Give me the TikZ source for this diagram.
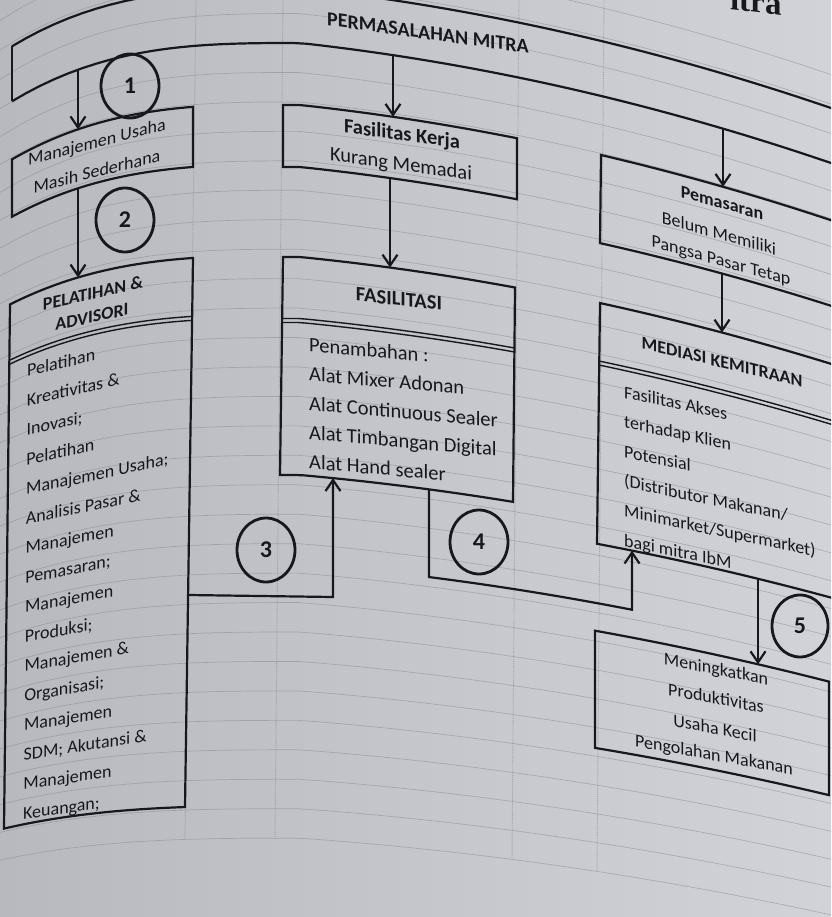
\documentclass[tikz,border=0pt]{standalone}
\usepackage{fontspec}
\setmainfont{Carlito}
\newfontfamily\headserif{Liberation Serif}
\usetikzlibrary{arrows.meta,shapes.geometric}
\definecolor{ink}{RGB}{24,24,28}
\definecolor{paperL}{RGB}{184,185,190}
\definecolor{paperR}{RGB}{210,211,216}
\definecolor{gridc}{RGB}{135,136,142}

% vertical offset of a printed horizontal line (page curvature), x and row value at x=300
\pgfmathdeclarefunction{warp}{2}{%
  \begingroup
  \pgfmathparse{max(0,min(1,(#2-43)/795))}\let\wt\pgfmathresult
  \pgfmathparse{(300-#1)/160}\let\wu\pgfmathresult
  \pgfmathparse{(#1-300)/100}\let\wv\pgfmathresult
  \pgfmathparse{(#1<300)*(10-6.66*\wt)*(\wu)*(\wu)*(\wu)+(#1>300)*((0.1104-0.0397*\wt)*(#1-300)+(2.177-0.787*\wt)*(\wv)*(\wv))}%
  \pgfmathsmuggle\pgfmathresult
  \endgroup}

\newcommand\wbox[6]{%
  \draw[boxline] plot[domain=#1:#2,samples=30] (\x,{#3+warp(\x,#3)})
    -- plot[domain=#5:#4,samples=30] (\x,{#6+warp(\x,#6)}) -- cycle;}
\newcommand\wdiv[3]{%
  \draw[divline] plot[domain=#1:#2,samples=30] (\x,{#3+warp(\x,#3)});
  \draw[divline] plot[domain=#1:#2,samples=30] (\x,{#3+4+warp(\x,#3)});}

\tikzset{
  boxline/.style={draw=ink, line width=2.2pt, line join=miter},
  divline/.style={draw=ink, line width=1.4pt},
  conn/.style={draw=ink, line width=2.2pt, -{Straight Barb[length=11pt,width=15pt]}},
  gridh/.style={draw=gridc, line width=0.7pt, opacity=0.5},
  gridv/.style={draw=gridc, line width=0.9pt, opacity=0.6, densely dotted},
  numc/.style={ellipse, draw=ink, line width=2.8pt, minimum width=58pt, minimum height=64pt, inner sep=0pt, text=ink, font=\fontsize{24}{24}\selectfont\bfseries},
  txt/.style={inner sep=0pt, text=ink},
  fs/.style={font=\fontsize{18}{20}\selectfont},
  fsb/.style={font=\fontsize{18}{20}\selectfont\bfseries},
  fm/.style={font=\fontsize{20.5}{22}\selectfont},
  fmb/.style={font=\fontsize{20.5}{22}\selectfont\bfseries},
}

\begin{document}
\begin{tikzpicture}[x=1pt,y=-1pt]
\shade[left color=paperL,right color=paperR] (0,0) rectangle (831,917);
\useasboundingbox (0,0) rectangle (831,917);
\clip (0,0) rectangle (831,917);

% faint spreadsheet grid
\foreach \k in {-3,...,27}{
  \pgfmathsetmacro\yy{43+29.45*\k}
  \draw[gridh] plot[domain=0:831,samples=40] (\x,{\yy+warp(\x,\yy)});
}
\foreach \xa/\xb in {196/185,283/275,519/512,604/597}{
  \draw[gridv] (\xa,0) -- (\xb,{838+warp(\xb,838)});
}

% page header fragment
\node[txt, anchor=base west, yslant=-0.12, font=\headserif\bfseries\fontsize{33}{33}\selectfont] (hdr) at (730,9) {itra};

% top box
\draw[boxline] plot[domain=12:840,samples=60] (\x,{-12+warp(\x,-12)});
\draw[boxline] plot[domain=12:840,samples=60] (\x,{43+warp(\x,43)});
\draw[boxline] (12,{-12+warp(12,-12)}) -- (12,{43+warp(12,43)});
\node[txt, font=\fontsize{20}{22}\selectfont\bfseries, yslant=-0.14] (title) at (428,33) {PERMASALAHAN MITRA};

% left column
\wbox{12}{193}{104}{12}{193}{164.3}
\node[txt,fs,yslant=0.26] (b1a) at (97,143) {Manajemen Usaha};
\node[txt,fs,yslant=0.25] (b1b) at (97,171) {Masih Sederhana};

\wbox{10}{193}{255.5}{4}{185}{805.7}
\wdiv{9.5}{192.5}{314}
\node[txt,fsb,yslant=0.22] (ph1) at (93,293) {PELATIHAN \&};
\node[txt,fsb,yslant=0.22] (ph2) at (92,317) {ADVISORI};
\foreach \t [count=\i from 0] in {{Pelatihan},{Kreativitas \&},{Inovasi;},{Pelatihan},{Manajemen Usaha;},{Analisis Pasar \&},{Manajemen},{Pemasaran;},{Manajemen},{Produksi;},{Manajemen \&},{Organisasi;},{Manajemen},{SDM; Akutansi \&},{Manajemen},{Keuangan;}}{
  \pgfmathsetmacro\sl{0.24-0.1*\i/15}
  \node[txt,fs,anchor=base west,yslant=\sl] (L\i) at ({27-4*\i/15},{377+29.5*\i}) {\t};
}

% centre column
\wbox{283}{517}{105}{283}{517}{167}
\node[txt,fmb,yslant=-0.14] (fk1) at (402,135) {Fasilitas Kerja};
\node[txt,fm,yslant=-0.14] (fk2) at (401,165) {Kurang Memadai};

\wbox{283}{515}{257}{280}{513}{475}
\wdiv{282}{514}{318.5}
\node[txt,fmb,yslant=-0.11] (fas) at (399,299) {FASILITASI};
\foreach \t [count=\i from 0] in {{Penambahan :},{Alat Mixer Adonan},{Alat Continuous Sealer},{Alat Timbangan Digital},{Alat Hand sealer}}{
  \node[txt,fm,anchor=base west,yslant=-0.09] (C\i) at (309,{351.5+29.25*\i}) {\t};
}

% right column
\wbox{601}{845}{103.5}{600}{845}{194}
\node[txt,fsb,yslant=-0.28] (pm1) at (722,203) {Pemasaran};
\node[txt,fs,yslant=-0.28] (pm2) at (719,233) {Belum Memiliki};
\node[txt,fs,yslant=-0.28] (pm3) at (721,262) {Pangsa Pasar Tetap};

\wbox{600}{845}{255.4}{597}{845}{502.6}
\wdiv{599}{845}{315}
\node[txt,fsb,yslant=-0.24] (med) at (722,362) {MEDIASI KEMITRAAN};
\foreach \t [count=\i from 0] in {{Fasilitas Akses},{terhadap Klien},{Potensial},{(Distributor Makanan/},{Minimarket/Supermarket)},{bagi mitra IbM}}{
  \node[txt,fs,anchor=base west,yslant=-0.21] (R\i) at (624,{398+29.6*\i}) {\t};
}

\wbox{595}{829}{592}{595}{829}{712}
\node[txt,fs,yslant=-0.2] (r1) at (716,670) {Meningkatkan};
\node[txt,fs,yslant=-0.19] (r2) at (716,698) {Produktivitas};
\node[txt,fs,yslant=-0.19] (r3) at (715,728) {Usaha Kecil};
\node[txt,fs,yslant=-0.18] (r4) at (714,756) {Pengolahan Makanan};

% connector end points
\coordinate (s1) at (78,{43+warp(78,43)});
\coordinate (e1) at (78,{104+warp(78,104)});
\coordinate (s2) at (78,{164.3+warp(78,164.3)});
\coordinate (e2) at (78,{255.5+warp(78,255.5)});
\coordinate (sB) at (393,{43+warp(393,43)});
\coordinate (eB) at (393,{105+warp(393,105)});
\coordinate (sB2) at (390,{167+warp(390,167)});
\coordinate (eB2) at (390,{257+warp(390,257)});
\coordinate (sC) at (723,{43+warp(723,43)});
\coordinate (eC) at (723,{103.5+warp(723,103.5)});
\coordinate (sC2) at (722,{194+warp(722,194)});
\coordinate (eC2) at (722,{255.4+warp(722,255.4)});
\coordinate (s3) at (188,595);
\coordinate (k3) at (333,597);
\coordinate (e3) at (333,{475+warp(333,475)});
\coordinate (s4) at (429,{475+warp(429,475)});
\coordinate (k4) at (429,{563.4+warp(429,563.4)});
\coordinate (e4) at (632,{502.6+warp(632,502.6)});
\coordinate (s5) at (758,{502.6+warp(758,502.6)});
\coordinate (e5) at (758,{592+warp(758,592)});

\draw[conn] (s1) -- (e1);
\draw[conn] (s2) -- (e2);
\draw[conn] (sB) -- (eB);
\draw[conn] (sB2) -- (eB2);
\draw[conn] (sC) -- (eC);
\draw[conn] (sC2) -- (eC2);
\draw[conn] (s3) -- (k3) -- (e3);
\draw[conn] (s4) -- (k4) -- plot[domain=429:632,samples=20] (\x,{563.4+warp(\x,563.4)}) -- (e4);
\draw[conn] (s5) -- (e5);

% numbered circles
\node[numc] (n1) at (130,86) {1};
\node[numc] (n2) at (125,220) {2};
\node[numc] (n3) at (266,550) {3};
\node[numc] (n4) at (479,542) {4};
\node[numc, minimum width=56pt, minimum height=62pt] (n5) at (800,626) {5};
\end{tikzpicture}
\end{document}
